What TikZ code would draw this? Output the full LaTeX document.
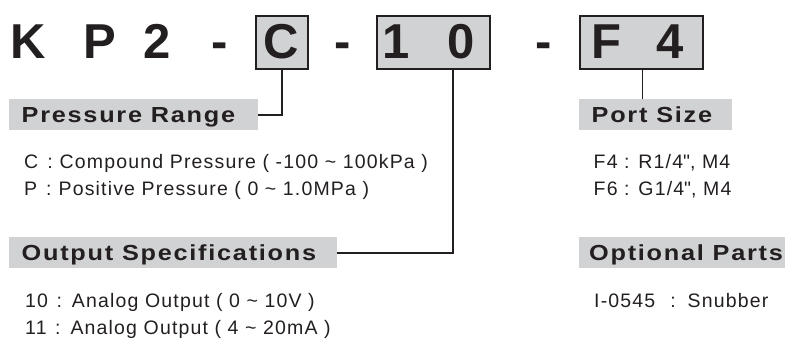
\documentclass[tikz,border=0pt]{standalone}
\usepackage{fontspec}
\setmainfont{Liberation Sans}
\definecolor{ink}{HTML}{231F20}
\definecolor{boxgray}{HTML}{D1D2D3}
\newcommand{\tld}{\textasciitilde}
\begin{document}
\begin{tikzpicture}[x=1pt,y=-1pt,
  title/.style={font=\fontsize{49}{49}\selectfont\bfseries, text=ink, inner sep=0, anchor=base},
  codebox/.style={draw=ink, line width=1.8pt, fill=boxgray, inner sep=0, anchor=north west},
  bar/.style={fill=boxgray, inner sep=0, anchor=north west},
  head/.style={font=\fontsize{21.8}{21.8}\selectfont\bfseries\addfontfeatures{FakeStretch=1.16,LetterSpace=8}, text=ink, inner sep=0, anchor=base west},
  body/.style={font=\fontsize{19.5}{19.5}\selectfont\addfontfeatures{LetterSpace=6}, text=ink, inner sep=0, anchor=base west},
  conn/.style={draw=ink, line width=1.6pt}]
\useasboundingbox (0,0) rectangle (788,338);
% code boxes
\node[codebox, minimum width=52, minimum height=53] (boxC) at (255,15) {};
\node[codebox, minimum width=113, minimum height=53] (box10) at (376,15) {};
\node[codebox, minimum width=123, minimum height=53] (boxF) at (579,15) {};
% title characters
\node[title] (tK) at (28.5,58) {K};
\node[title] (tP) at (100,58) {P};
\node[title] (t2) at (157.5,58) {2};
\node[title] (td1) at (219.5,58) {-};
\node[title] (tC) at (281,58) {C};
\node[title] (td2) at (342.5,58) {-};
\node[title] (t1) at (396.5,58) {1};
\node[title] (t0) at (461,58) {0};
\node[title] (td3) at (543.5,58) {-};
\node[title] (tF) at (606,58) {F};
\node[title] (t4) at (670.5,58) {4};
% label bars
\node[bar, minimum width=249, minimum height=31] (barP) at (9,99) {};
\node[bar, minimum width=328, minimum height=31] (barO) at (9,237) {};
\node[bar, minimum width=153, minimum height=31] (barS) at (579,99) {};
\node[bar, minimum width=206, minimum height=31] (barX) at (579,237) {};
\node[head] (hP) at (21.5,122) {Pressure Range};
\node[head] (hO) at (21.5,260) {Output Specifications};
\node[head] (hS) at (591.5,122) {Port Size};
\node[head] (hX) at (589,260) {Optional Parts};
% connectors
\draw[conn] (boxC.south) |- (barP.east);
\draw[conn] ([xshift=19.5pt]box10.south) |- (barO.east);
\draw[conn] ([xshift=1pt]boxF.south) -- ([xshift=1pt]boxF.south |- barS.north);
% descriptions
\node[body] (c1) at (24,168) {C\hspace{9pt}:\hspace{7pt}Compound Pressure ( -100 \tld{} 100kPa )};
\node[body] (c2) at (24,195) {P\hspace{9pt}:\hspace{7pt}Positive Pressure ( 0 \tld{} 1.0MPa )};
\node[body] (o1) at (25,307) {10\hspace{8.5pt}:\hspace{10pt}Analog Output ( 0 \tld{} 10V )};
\node[body] (o2) at (25,334) {11\hspace{8.5pt}:\hspace{10pt}Analog Output ( 4 \tld{} 20mA )};
\node[body] (s1) at (593.5,168) {F4 : R1/4\textquotedbl, M4};
\node[body] (s2) at (593.5,195) {F6 : G1/4\textquotedbl, M4};
\node[body] (x1) at (594,307) {I-0545\hspace{15pt}:\hspace{12pt}Snubber};
\end{tikzpicture}
\end{document}
